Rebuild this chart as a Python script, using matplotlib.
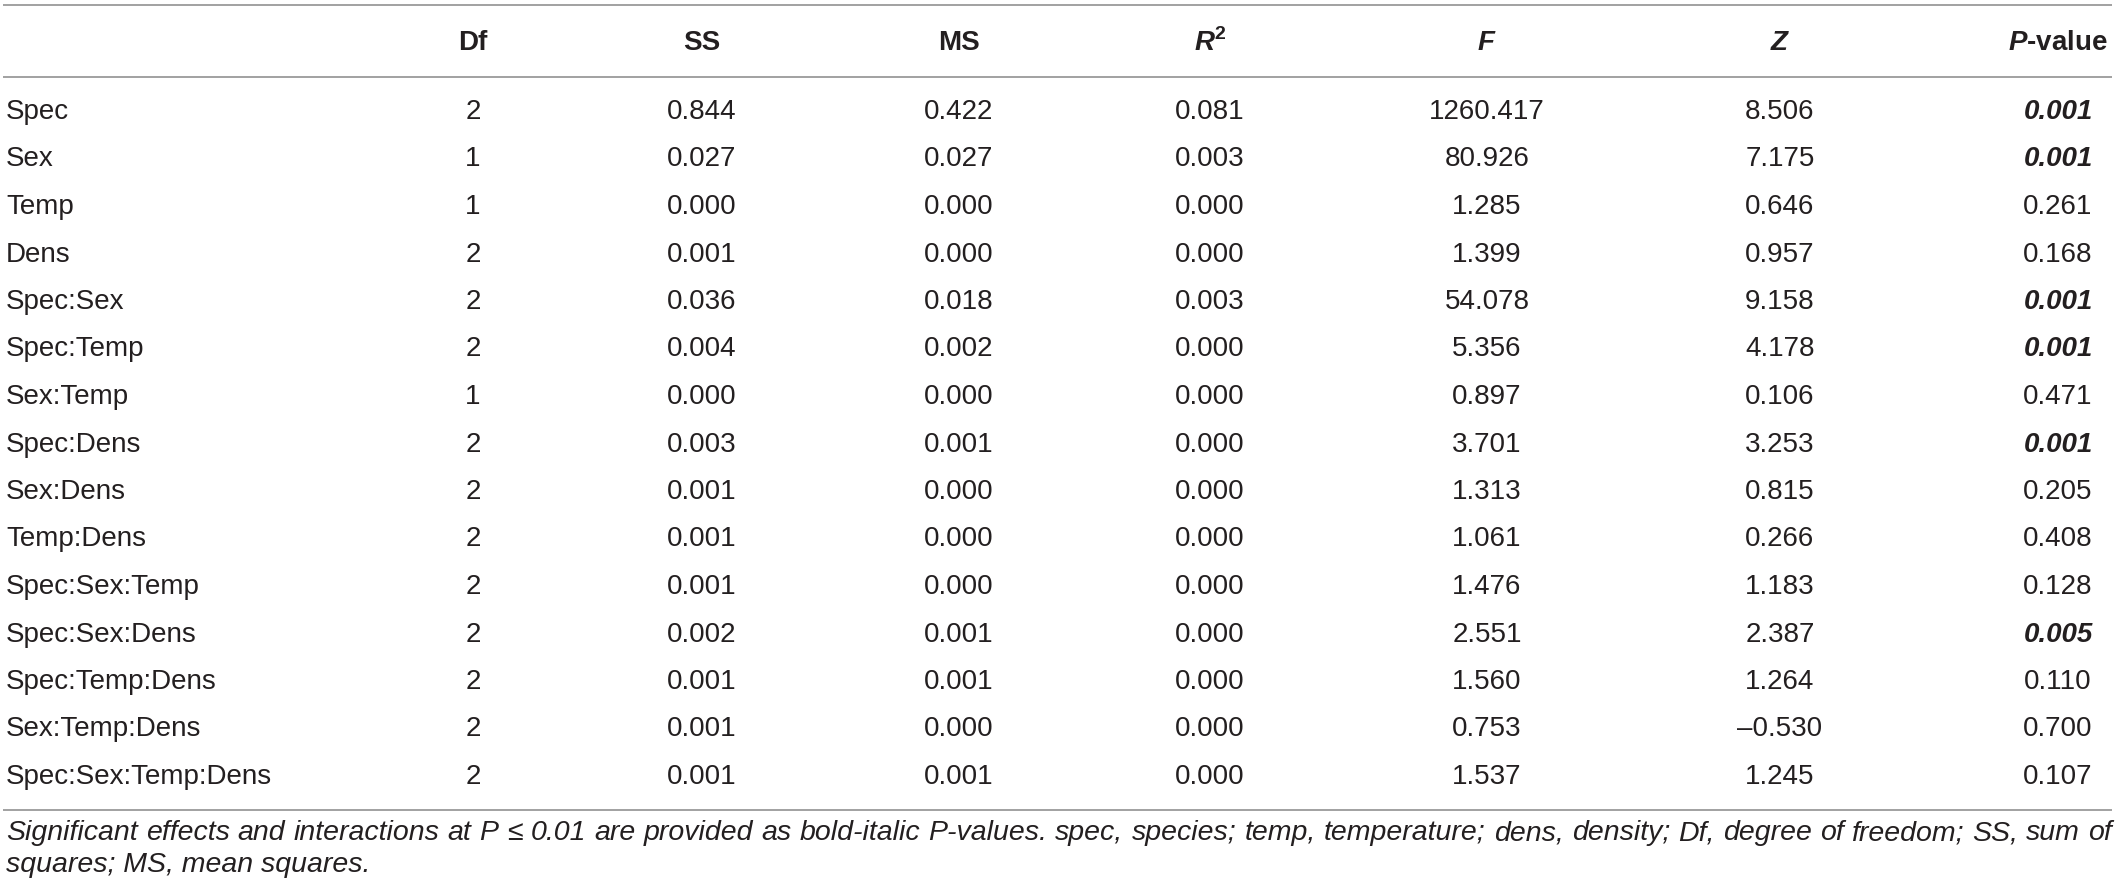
import matplotlib
matplotlib.use("Agg")
import matplotlib.pyplot as plt

# 表格数据
row_labels = ["Spec", "Sex", "Temp", "Dens", "Spec:Sex", "Spec:Temp", "Sex:Temp",
              "Spec:Dens", "Sex:Dens", "Temp:Dens", "Spec:Sex:Temp", "Spec:Sex:Dens",
              "Spec:Temp:Dens", "Sex:Temp:Dens", "Spec:Sex:Temp:Dens"]
df_vals = [2, 1, 1, 2, 2, 2, 1, 2, 2, 2, 2, 2, 2, 2, 2]
ss_vals = [0.844, 0.027, 0.000, 0.001, 0.036, 0.004, 0.000, 0.003, 0.001, 0.001,
           0.001, 0.002, 0.001, 0.001, 0.001]
ms_vals = [0.422, 0.027, 0.000, 0.000, 0.018, 0.002, 0.000, 0.001, 0.000, 0.000,
           0.000, 0.001, 0.001, 0.000, 0.001]
r2_vals = [0.081, 0.003, 0.000, 0.000, 0.003, 0.000, 0.000, 0.000, 0.000, 0.000,
           0.000, 0.000, 0.000, 0.000, 0.000]
f_vals = [1260.417, 80.926, 1.285, 1.399, 54.078, 5.356, 0.897, 3.701, 1.313, 1.061,
          1.476, 2.551, 1.560, 0.753, 1.537]
z_vals = [8.506, 7.175, 0.646, 0.957, 9.158, 4.178, 0.106, 3.253, 0.815, 0.266,
          1.183, 2.387, 1.264, -0.530, 1.245]
p_vals = [0.001, 0.001, 0.261, 0.168, 0.001, 0.001, 0.471, 0.001, 0.205, 0.408,
          0.128, 0.005, 0.110, 0.700, 0.107]
headers = ["Df", "SS", "MS", r"$\mathbfit{R}^{\mathbf{2}}$", r"$\mathbfit{F}$",
           r"$\mathbfit{Z}$", r"$\mathbfit{P}$-value"]
footnote = ["Significant effects and interactions at P \u2264 0.01 are provided as "
            "bold-italic P-values. spec, species; temp, temperature; dens, density; "
            "Df, degree of freedom; SS, sum of",
            "squares; MS, mean squares."]

plt.rcParams['font.family'] = ['Liberation Sans', 'DejaVu Sans']
plt.rcParams['mathtext.fontset'] = 'custom'
plt.rcParams['mathtext.rm'] = 'Liberation Sans'
plt.rcParams['mathtext.bf'] = 'Liberation Sans:bold'
plt.rcParams['mathtext.bfit'] = 'Liberation Sans:bold:italic'

W, H = 2121, 896
fig = plt.figure(figsize=(W / 100, H / 100), dpi=100)
ax = fig.add_axes([0, 0, 1, 1])
ax.set_xlim(0, W)
ax.set_ylim(H, 0)
ax.axis('off')

txt_color = '#231f20'
line_color = '#9a9a9a'
fs = 20
col_x = [473, 702, 959, 1210, 1487, 1780, 2058]
x_left, x_right = 6, 2112
y_header = 43
y_row0, row_h = 112, 47.5

# 横线
for y in [5, 77, 810]:
    ax.plot([x_left - 3, x_right], [y, y], color=line_color, lw=1.3, solid_capstyle='butt')

# 表头
for x, h in zip(col_x, headers):
    ax.text(x, y_header, h, ha='center', va='center', fontsize=fs,
            fontweight='bold', color=txt_color)

# 数据行
for i, lab in enumerate(row_labels):
    y = y_row0 + i * row_h
    ax.text(x_left, y, lab, ha='left', va='center', fontsize=fs, color=txt_color)
    cells = [str(df_vals[i]), f"{ss_vals[i]:.3f}", f"{ms_vals[i]:.3f}",
             f"{r2_vals[i]:.3f}", f"{f_vals[i]:.3f}",
             f"{z_vals[i]:.3f}".replace('-', '\u2013'), f"{p_vals[i]:.3f}"]
    for j, (x, c) in enumerate(zip(col_x, cells)):
        if j == 6 and p_vals[i] <= 0.01:
            ax.text(x, y, c, ha='center', va='center', fontsize=fs, color=txt_color,
                    fontweight='bold', style='italic')
        else:
            ax.text(x, y, c, ha='center', va='center', fontsize=fs, color=txt_color)

# 脚注：先按整行宽度定字号，再两端对齐
renderer = fig.canvas.get_renderer()
t = ax.text(0, 0, footnote[0], fontsize=18, style='italic')
full_w = t.get_window_extent(renderer=renderer).width
t.remove()
fn_fs = min(18 * (x_right - x_left) / full_w * 0.995, 21)

words = footnote[0].split(' ')
widths = []
for w in words:
    t = ax.text(0, 0, w, fontsize=fn_fs, style='italic')
    widths.append(t.get_window_extent(renderer=renderer).width)
    t.remove()
gap = (x_right - x_left - sum(widths)) / (len(words) - 1)
x = x_left
for w, wd in zip(words, widths):
    ax.text(x, 833, w, ha='left', va='center', fontsize=fn_fs, style='italic',
            color=txt_color)
    x += wd + gap
ax.text(x_left, 865, footnote[1], ha='left', va='center', fontsize=fn_fs,
        style='italic', color=txt_color)

fig.savefig('out.png', dpi=100)
